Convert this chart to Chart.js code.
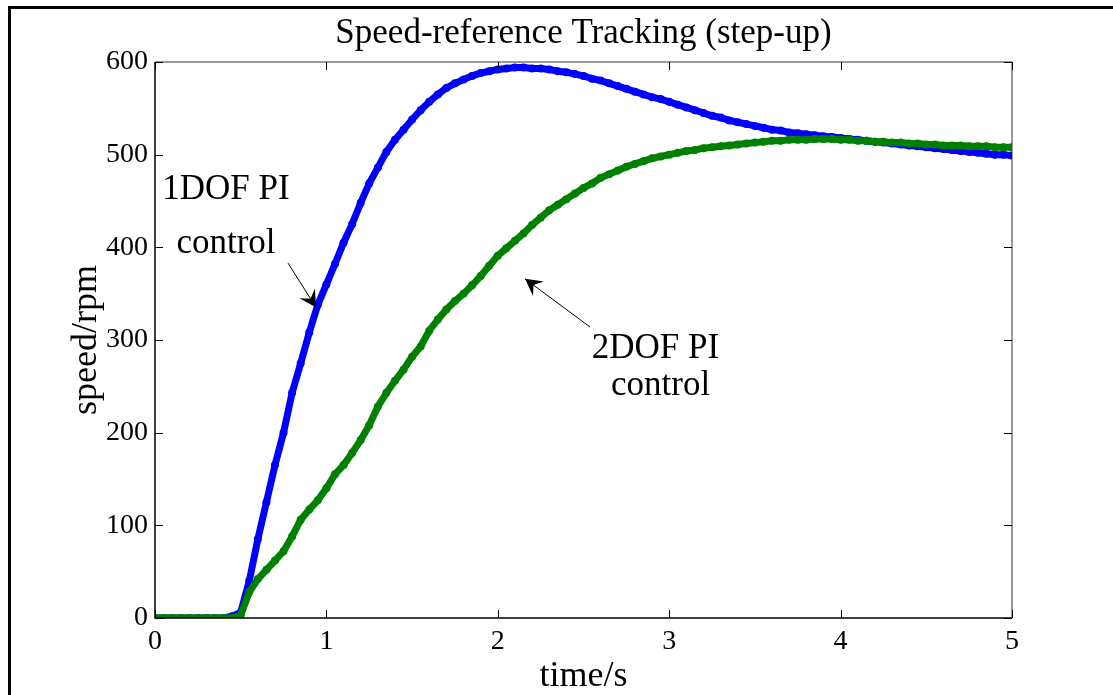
<!DOCTYPE html>
<html lang="en">
<head>
  <meta charset="UTF-8">
  <title>Speed-reference Tracking (step-up)</title>
  <script src="https://cdn.jsdelivr.net/npm/chart.js"></script>
  <style>
    body { margin: 0; background: #fff; }
  </style>
</head>
<body>
  <canvas id="lineChart" width="1113" height="695"></canvas>

  <script>
    // time axis, every 0.05 s from 0 to 5
    const time = [];
    for (let i = 0; i <= 100; i++) time.push(+(i * 0.05).toFixed(2));

    // 1DOF PI control (blue)
    const speed1dof = [
      0, 0, 0, 0, 0, 0, 0, 0, 0, 2,
      6, 40, 85, 125, 165, 200, 243, 275, 308, 338,
      360, 382, 405, 425, 448, 469, 486, 503, 516, 527,
      538, 548, 557, 565, 572, 577, 581, 585, 588, 590,
      592, 593, 594, 594, 593, 593, 592, 590, 589, 587,
      585, 582, 580, 577, 574, 571, 568, 565, 562, 560,
      557, 554, 551, 548, 545, 542, 540, 537, 535, 533,
      531, 529, 527, 526, 524, 523, 522, 521, 520, 519,
      518, 517, 516, 515, 514, 513, 512, 511, 510, 509,
      508, 507, 506, 505, 504, 503, 502, 501, 500, 500,
      499
    ];

    // 2DOF PI control (green)
    const speed2dof = [
      0, 0, 0, 0, 0, 0, 0, 0, 0, 0,
      3, 28, 42, 52, 62, 72, 88, 106, 117, 127,
      140, 155, 165, 178, 192, 208, 228, 243, 256, 268,
      282, 293, 310, 322, 333, 342, 350, 359, 369, 380,
      391, 399, 407, 415, 424, 432, 440, 446, 452, 458,
      464, 469, 475, 479, 483, 487, 490, 493, 496, 498,
      500, 502, 504, 505, 507, 508, 509, 510, 511, 512,
      513, 514, 515, 515, 516, 516, 516, 517, 517, 517,
      516, 516, 515, 515, 514, 514, 513, 513, 512, 512,
      511, 511, 510, 510, 510, 509, 509, 509, 508, 508,
      508
    ];

    const xTicks = [0, 1, 2, 3, 4, 5];
    const yTicks = [0, 100, 200, 300, 400, 500, 600];

    const serif = '"Liberation Serif", "Times New Roman", serif';

    const toPoints = vals => vals.map((v, i) => ({ x: time[i], y: v }));

    // title, axis titles, frame, inward ticks and the two arrow notes
    const decor = {
      id: 'decor',
      afterDraw(chart) {
        const ctx = chart.ctx;
        const a = chart.chartArea;
        const xs = chart.scales.x, ys = chart.scales.y;
        ctx.save();

        // outer frame (top and left visible)
        ctx.fillStyle = '#000';
        ctx.fillRect(8, 6, 1113, 3);
        ctx.fillRect(8, 6, 3, 695);

        // plot box
        ctx.strokeStyle = '#000';
        ctx.lineWidth = 1.5;
        ctx.beginPath();
        ctx.moveTo(a.left, a.top);
        ctx.lineTo(a.left, a.bottom);
        ctx.lineTo(a.right, a.bottom);
        ctx.stroke();
        ctx.strokeStyle = '#333';
        ctx.lineWidth = 1;
        ctx.beginPath();
        ctx.moveTo(a.left, a.top);
        ctx.lineTo(a.right, a.top);
        ctx.lineTo(a.right, a.bottom);
        ctx.stroke();

        // small inward ticks
        ctx.strokeStyle = '#000';
        ctx.lineWidth = 1;
        ctx.beginPath();
        xTicks.forEach(t => {
          const px = Math.round(xs.getPixelForValue(t)) + 0.5;
          ctx.moveTo(px, a.bottom); ctx.lineTo(px, a.bottom - 8);
          ctx.moveTo(px, a.top); ctx.lineTo(px, a.top + 8);
        });
        yTicks.forEach(v => {
          const py = Math.round(ys.getPixelForValue(v)) + 0.5;
          ctx.moveTo(a.left, py); ctx.lineTo(a.left + 8, py);
          ctx.moveTo(a.right, py); ctx.lineTo(a.right - 8, py);
        });
        ctx.stroke();

        // texts
        ctx.fillStyle = '#000';
        ctx.textAlign = 'center';
        ctx.textBaseline = 'middle';
        ctx.font = '35px ' + serif;
        ctx.fillText('Speed-reference Tracking (step-up)', (a.left + a.right) / 2, 34);
        ctx.font = '36px ' + serif;
        ctx.fillText('time/s', (a.left + a.right) / 2, 677);
        ctx.save();
        ctx.translate(87, (a.top + a.bottom) / 2);
        ctx.rotate(-Math.PI / 2);
        ctx.fillText('speed/rpm', 0, 0);
        ctx.restore();

        ctx.font = '35px ' + serif;
        const P = (t, v) => [xs.getPixelForValue(t), ys.getPixelForValue(v)];
        let p;
        p = P(0.414, 462); ctx.fillText('1DOF PI', p[0], p[1]);
        p = P(0.414, 404); ctx.fillText('control', p[0], p[1]);
        p = P(2.92, 291); ctx.fillText('2DOF PI', p[0], p[1]);
        p = P(2.95, 251); ctx.fillText('control', p[0], p[1]);

        const arrow = (from, to) => {
          const [x1, y1] = P(from[0], from[1]);
          const [x2, y2] = P(to[0], to[1]);
          const ang = Math.atan2(y2 - y1, x2 - x1);
          ctx.lineWidth = 1;
          ctx.beginPath();
          ctx.moveTo(x1, y1);
          ctx.lineTo(x2, y2);
          ctx.stroke();
          const L = 19, W = 0.5;
          ctx.beginPath();
          ctx.moveTo(x2, y2);
          ctx.lineTo(x2 - L * Math.cos(ang - W), y2 - L * Math.sin(ang - W));
          ctx.lineTo(x2 - L * 0.55 * Math.cos(ang), y2 - L * 0.55 * Math.sin(ang));
          ctx.lineTo(x2 - L * Math.cos(ang + W), y2 - L * Math.sin(ang + W));
          ctx.closePath();
          ctx.fill();
        };
        arrow([0.776, 383], [0.94, 335]);
        arrow([2.538, 314], [2.159, 366]);

        ctx.restore();
      }
    };

    const config = {
      type: 'line',
      data: {
        datasets: [
          {
            label: '2DOF PI control',
            data: toPoints(speed2dof),
            borderColor: 'rgb(0,128,0)',
            backgroundColor: 'rgb(0,128,0)',
            borderWidth: 7,
            pointRadius: 4,
            pointBorderWidth: 0,
            tension: 0
          },
          {
            label: '1DOF PI control',
            data: toPoints(speed1dof),
            borderColor: 'rgb(0,0,255)',
            backgroundColor: 'rgb(0,0,255)',
            borderWidth: 7,
            pointRadius: 4,
            pointBorderWidth: 0,
            tension: 0
          }
        ]
      },
      options: {
        responsive: false,
        animation: false,
        events: [],
        layout: { padding: { left: 0, top: 62, right: 101, bottom: 0 } },
        plugins: {
          legend: { display: false },
          title: { display: false },
          tooltip: { enabled: false }
        },
        scales: {
          x: {
            type: 'linear',
            min: 0,
            max: 5,
            afterFit: s => { s.height = 77; },
            afterBuildTicks: s => { s.ticks = xTicks.map(v => ({ value: v })); },
            grid: { display: false, drawTicks: false },
            border: { display: false },
            ticks: {
              color: '#000',
              padding: 7,
              font: { family: serif, size: 28 }
            }
          },
          y: {
            min: 0,
            max: 600,
            afterFit: s => { s.width = 155; },
            afterBuildTicks: s => { s.ticks = yTicks.map(v => ({ value: v })); },
            grid: { display: false, drawTicks: false },
            border: { display: false },
            ticks: {
              color: '#000',
              padding: 7,
              font: { family: serif, size: 28 }
            }
          }
        }
      },
      plugins: [decor]
    };

    new Chart(document.getElementById('lineChart'), config);
  </script>
</body>
</html>
